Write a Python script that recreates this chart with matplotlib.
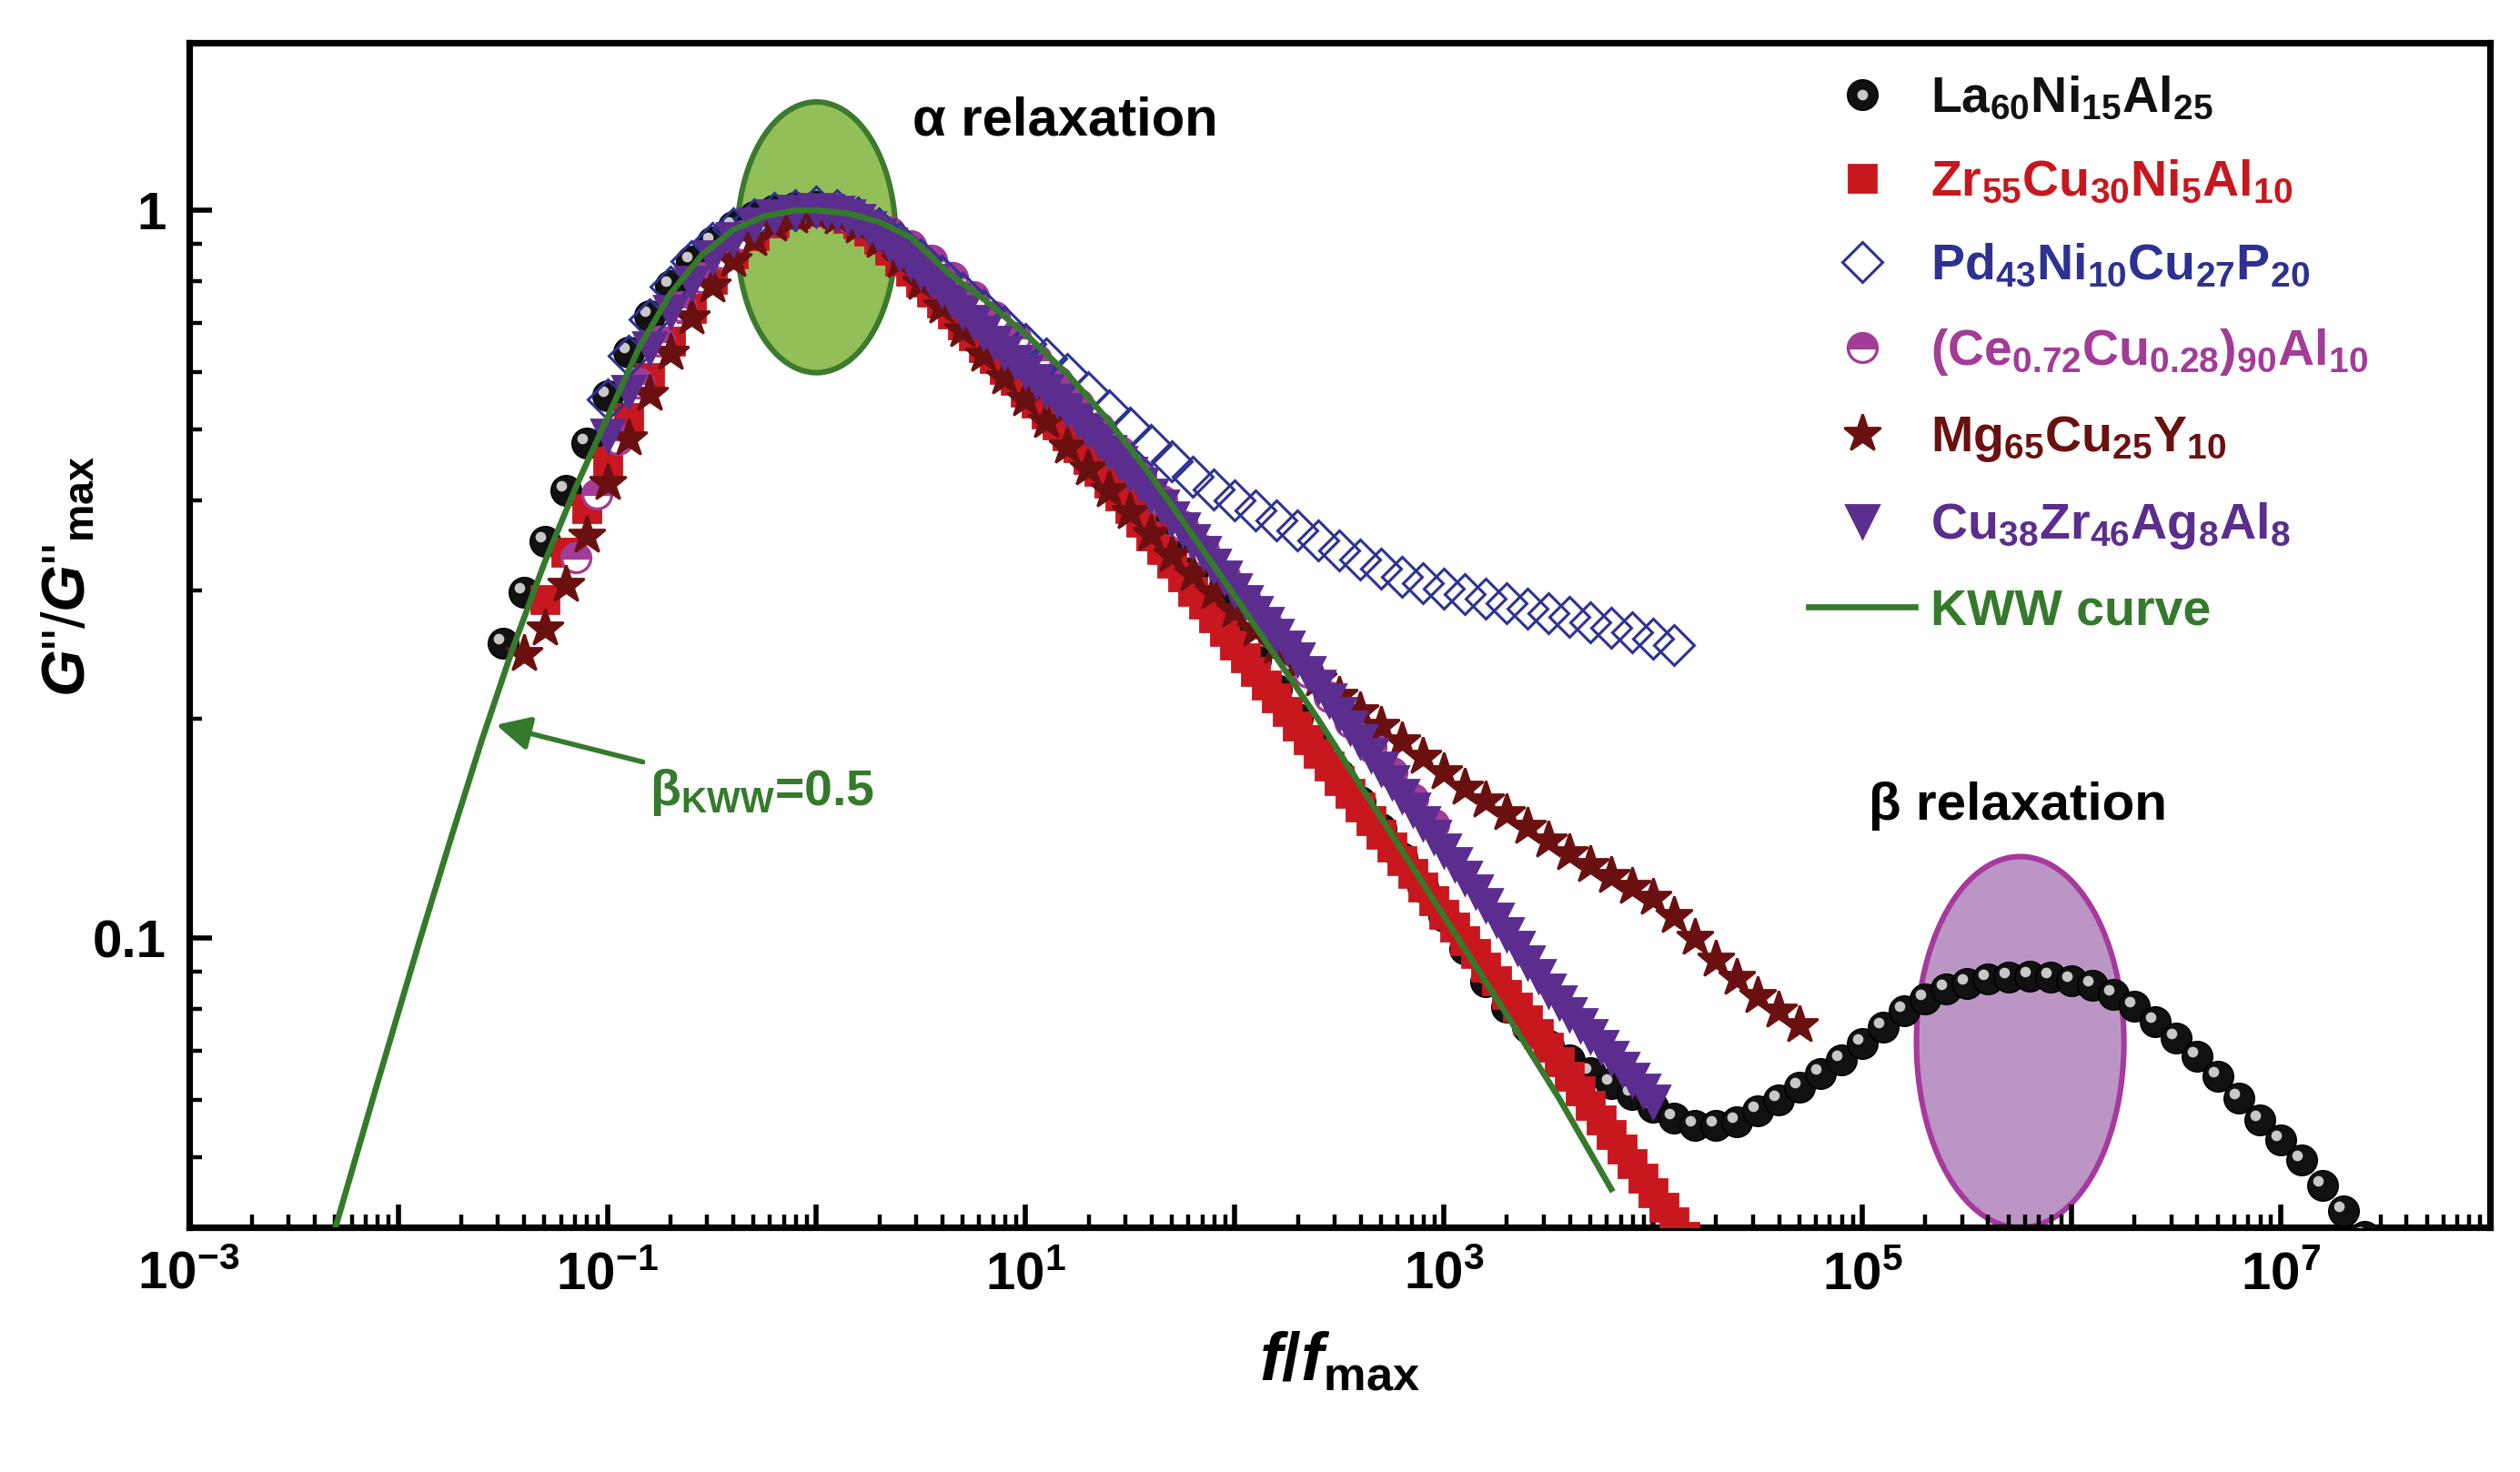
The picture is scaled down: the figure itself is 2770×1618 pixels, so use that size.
import numpy as np
import matplotlib
matplotlib.use('Agg')
import matplotlib.pyplot as plt
from matplotlib.ticker import FixedLocator, NullFormatter
from matplotlib.transforms import offset_copy
from matplotlib.legend_handler import HandlerTuple

plt.rcParams['font.family'] = ['Liberation Sans', 'DejaVu Sans']
plt.rcParams['font.weight'] = 'bold'
plt.rcParams['mathtext.fontset'] = 'custom'
plt.rcParams['mathtext.rm'] = 'Liberation Sans:bold'
plt.rcParams['mathtext.bf'] = 'Liberation Sans:bold'
plt.rcParams['mathtext.it'] = 'Liberation Sans:italic:bold'
plt.rcParams['mathtext.default'] = 'bf'

# ---- data (log10 of f/fmax and log10 of G''/G''max) ----
la_logf = [-1.5, -1.4, -1.3, -1.2, -1.1, -1.0, -0.9, -0.8, -0.7, -0.6, -0.5, -0.4, -0.3, -0.2, -0.1,
           0.0, 0.1, 0.2, 0.3, 0.4, 0.5, 0.6, 0.7, 0.8, 0.9, 1.0, 1.1, 1.2, 1.3, 1.4, 1.5, 1.6, 1.7, 1.8, 1.9,
           2.0, 2.1, 2.2, 2.3, 2.4, 2.5, 2.6, 2.7, 2.8, 2.9, 3.0, 3.1, 3.2, 3.3, 3.4, 3.5, 3.6, 3.7, 3.8, 3.9,
           4.0, 4.1, 4.2, 4.3, 4.4, 4.5, 4.6, 4.7, 4.8, 4.9, 5.0, 5.1, 5.2, 5.3, 5.4, 5.5, 5.6, 5.7, 5.8, 5.9,
           6.0, 6.1, 6.2, 6.3, 6.4, 6.5, 6.6, 6.7, 6.8, 6.9, 7.0, 7.1, 7.2, 7.3, 7.4]
la_logg = [-0.595, -0.525, -0.455, -0.385, -0.32, -0.255, -0.195, -0.145, -0.103, -0.07, -0.043, -0.022, -0.008, 0.0, 0.004,
           0.005, 0.0, -0.01, -0.03, -0.06, -0.09, -0.12, -0.15, -0.18, -0.21, -0.24, -0.268, -0.296, -0.325, -0.356,
           -0.387, -0.42, -0.458, -0.497, -0.537, -0.578, -0.618, -0.658, -0.698, -0.737, -0.775, -0.812, -0.85, -0.89, -0.93,
           -0.97, -1.015, -1.06, -1.095, -1.123, -1.147, -1.168, -1.185, -1.20, -1.215, -1.232, -1.248, -1.258, -1.258, -1.252,
           -1.238, -1.222, -1.205, -1.186, -1.167, -1.145, -1.123, -1.10, -1.083, -1.07, -1.062, -1.056, -1.053, -1.052, -1.054,
           -1.058, -1.065, -1.077, -1.094, -1.115, -1.138, -1.163, -1.19, -1.22, -1.25, -1.278, -1.305, -1.34, -1.375, -1.41]

zr_logf = [-1.3, -1.2, -1.1, -1.0, -0.9, -0.8, -0.7, -0.6, -0.5, -0.4, -0.3, -0.2, -0.1,
           0.0, 0.05, 0.1, 0.15, 0.2, 0.25, 0.3, 0.35, 0.4, 0.45, 0.5, 0.55, 0.6, 0.65, 0.7, 0.75, 0.8, 0.85,
           0.9, 0.95, 1.0, 1.05, 1.1, 1.15, 1.2, 1.25, 1.3, 1.35, 1.4, 1.45, 1.5, 1.55, 1.6, 1.65, 1.7, 1.75,
           1.8, 1.85, 1.9, 1.95, 2.0, 2.05, 2.1, 2.15, 2.2, 2.25, 2.3, 2.35, 2.4, 2.45, 2.5, 2.55, 2.6, 2.65,
           2.7, 2.75, 2.8, 2.85, 2.9, 2.95, 3.0, 3.05, 3.1, 3.15, 3.2, 3.25, 3.3, 3.35, 3.4, 3.45, 3.5, 3.55,
           3.6, 3.65, 3.7, 3.75, 3.8, 3.85, 3.9, 3.95, 4.0, 4.05, 4.1, 4.15, 4.2, 4.25, 4.3]
zr_logg = [-0.535, -0.47, -0.41, -0.345, -0.285, -0.23, -0.18, -0.135, -0.095, -0.06, -0.035, -0.017, -0.005,
           0.0, -0.002, -0.005, -0.011, -0.018, -0.028, -0.04, -0.055, -0.07, -0.084, -0.098, -0.112, -0.127, -0.142,
           -0.157, -0.172, -0.188, -0.203, -0.219, -0.234, -0.25, -0.265, -0.28, -0.295, -0.31, -0.326, -0.342, -0.358,
           -0.375, -0.392, -0.41, -0.428, -0.447, -0.466, -0.485, -0.504, -0.523, -0.541, -0.56, -0.578, -0.597, -0.615,
           -0.634, -0.652, -0.67, -0.689, -0.708, -0.727, -0.746, -0.764, -0.783, -0.801, -0.82, -0.838, -0.857, -0.875,
           -0.893, -0.911, -0.93, -0.948, -0.967, -0.985, -1.003, -1.021, -1.04, -1.058, -1.077, -1.095, -1.113, -1.131,
           -1.15, -1.17, -1.19, -1.21, -1.23, -1.25, -1.27, -1.29, -1.31, -1.33, -1.35, -1.37, -1.39, -1.41, -1.43,
           -1.45, -1.47]

pd_logf = [-1.0, -0.9, -0.8, -0.7, -0.6, -0.5, -0.4, -0.3, -0.2, -0.1,
           0.0, 0.1, 0.2, 0.3, 0.4, 0.5, 0.6, 0.7, 0.8, 0.9, 1.0, 1.1, 1.2, 1.3, 1.4, 1.5, 1.6, 1.7, 1.8, 1.9,
           2.0, 2.1, 2.2, 2.3, 2.4, 2.5, 2.6, 2.7, 2.8, 2.9, 3.0, 3.1, 3.2, 3.3, 3.4, 3.5, 3.6, 3.7, 3.8, 3.9,
           4.0, 4.1]
pd_logg = [-0.26, -0.2, -0.15, -0.105, -0.07, -0.045, -0.025, -0.012, -0.004, 0.0,
           0.005, 0.0, -0.01, -0.025, -0.045, -0.067, -0.09, -0.113, -0.137, -0.16, -0.183, -0.204, -0.225, -0.25,
           -0.275, -0.299, -0.322, -0.345, -0.366, -0.384, -0.399, -0.412, -0.426, -0.44, -0.454, -0.467, -0.48,
           -0.492, -0.503, -0.512, -0.52, -0.527, -0.533, -0.54, -0.547, -0.553, -0.559, -0.566, -0.573, -0.58,
           -0.588, -0.597]

ce_logf = [-1.15, -1.05, -0.95, -0.85, -0.75, -0.65, -0.55, -0.45, -0.35, -0.25, -0.15, -0.05,
           0.05, 0.15, 0.25, 0.35, 0.45, 0.55, 0.65, 0.75, 0.85, 0.95, 1.05, 1.15, 1.25, 1.35, 1.45, 1.55,
           1.65, 1.75, 1.85, 1.95, 2.05, 2.15, 2.25, 2.35, 2.45, 2.55, 2.65, 2.75, 2.85, 2.95]
ce_logg = [-0.477, -0.39, -0.315, -0.237, -0.18, -0.132, -0.092, -0.06, -0.035, -0.017, -0.006, 0.0,
           -0.002, -0.008, -0.018, -0.03, -0.048, -0.069, -0.092, -0.118, -0.146, -0.175, -0.205, -0.235,
           -0.266, -0.298, -0.331, -0.365, -0.399, -0.433, -0.467, -0.502, -0.536, -0.569, -0.602, -0.635,
           -0.669, -0.703, -0.737, -0.772, -0.808, -0.844]

mg_logf = [-1.4, -1.3, -1.2, -1.1, -1.0, -0.9, -0.8, -0.7, -0.6, -0.5, -0.4, -0.3, -0.2, -0.1,
           0.0, 0.1, 0.2, 0.3, 0.4, 0.5, 0.6, 0.7, 0.8, 0.9, 1.0, 1.1, 1.2, 1.3, 1.4, 1.5, 1.6, 1.7, 1.8, 1.9,
           2.0, 2.1, 2.2, 2.3, 2.4, 2.5, 2.6, 2.7, 2.8, 2.9, 3.0, 3.1, 3.2, 3.3, 3.4, 3.5, 3.6, 3.7, 3.8, 3.9,
           4.0, 4.1, 4.2, 4.3, 4.4, 4.5, 4.6, 4.7]
mg_logg = [-0.61, -0.575, -0.515, -0.447, -0.375, -0.313, -0.252, -0.196, -0.147, -0.103, -0.068, -0.04, -0.02, -0.008,
           -0.005, -0.01, -0.022, -0.042, -0.07, -0.1, -0.132, -0.165, -0.198, -0.23, -0.26, -0.29, -0.325, -0.355,
           -0.385, -0.415, -0.445, -0.473, -0.50, -0.525, -0.55, -0.576, -0.60, -0.623, -0.645, -0.667, -0.688, -0.709,
           -0.73, -0.751, -0.772, -0.793, -0.811, -0.829, -0.847, -0.866, -0.884, -0.9, -0.915, -0.93, -0.945, -0.97,
           -1.0, -1.03, -1.055, -1.08, -1.10, -1.12]

cu_logf = [-1.0, -0.9, -0.8, -0.7, -0.6, -0.5, -0.4, -0.3, -0.2, -0.1,
           0.0, 0.05, 0.1, 0.15, 0.2, 0.25, 0.3, 0.35, 0.4, 0.45, 0.5, 0.55, 0.6, 0.65, 0.7, 0.75, 0.8, 0.85,
           0.9, 0.95, 1.0, 1.05, 1.1, 1.15, 1.2, 1.25, 1.3, 1.35, 1.4, 1.45, 1.5, 1.55, 1.6, 1.65, 1.7, 1.75,
           1.8, 1.85, 1.9, 1.95, 2.0, 2.05, 2.1, 2.15, 2.2, 2.25, 2.3, 2.35, 2.4, 2.45, 2.5, 2.55, 2.6, 2.65,
           2.7, 2.75, 2.8, 2.85, 2.9, 2.95, 3.0, 3.05, 3.1, 3.15, 3.2, 3.25, 3.3, 3.35, 3.4, 3.45, 3.5, 3.55,
           3.6, 3.65, 3.7, 3.75, 3.8, 3.85, 3.9, 3.95, 4.0]
cu_logg = [-0.31, -0.25, -0.19, -0.14, -0.1, -0.065, -0.04, -0.02, -0.008, -0.002,
           0.0, -0.001, -0.004, -0.009, -0.015, -0.025, -0.035, -0.047, -0.06, -0.072, -0.085, -0.097, -0.11, -0.125,
           -0.14, -0.154, -0.168, -0.182, -0.196, -0.209, -0.222, -0.235, -0.248, -0.261, -0.275, -0.289, -0.303,
           -0.317, -0.332, -0.347, -0.362, -0.377, -0.392, -0.407, -0.423, -0.439, -0.455, -0.471, -0.488, -0.505,
           -0.522, -0.538, -0.554, -0.569, -0.585, -0.601, -0.617, -0.636, -0.655, -0.673, -0.692, -0.711, -0.73,
           -0.748, -0.767, -0.786, -0.805, -0.823, -0.842, -0.861, -0.88, -0.898, -0.917, -0.936, -0.955, -0.975,
           -0.995, -1.014, -1.033, -1.052, -1.072, -1.088, -1.105, -1.12, -1.135, -1.15, -1.165, -1.18, -1.195,
           -1.21, -1.225]

kww_logf = [-2.3, -2.1, -1.9, -1.75, -1.6, -1.45, -1.3, -1.15, -1.0, -0.85, -0.7, -0.55, -0.4, -0.25, -0.1,
            0.0, 0.15, 0.3, 0.45, 0.63, 0.8, 1.0, 1.2, 1.4, 1.6, 1.8, 2.0, 2.2, 2.4, 2.6, 2.8, 3.0, 3.3, 3.55, 3.8]
kww_logg = [-1.398, -1.2, -1.006, -0.865, -0.728, -0.6, -0.484, -0.38, -0.285, -0.19, -0.115, -0.062, -0.027,
            -0.008, 0.0, 0.0, -0.004, -0.016, -0.037, -0.086, -0.122, -0.17, -0.225, -0.29, -0.365, -0.447, -0.53,
            -0.615, -0.70, -0.79, -0.88, -0.97, -1.105, -1.22, -1.345]

labels = ['La$_{60}$Ni$_{15}$Al$_{25}$', 'Zr$_{55}$Cu$_{30}$Ni$_{5}$Al$_{10}$', 'Pd$_{43}$Ni$_{10}$Cu$_{27}$P$_{20}$',
          '(Ce$_{0.72}$Cu$_{0.28}$)$_{90}$Al$_{10}$', 'Mg$_{65}$Cu$_{25}$Y$_{10}$', 'Cu$_{38}$Zr$_{46}$Ag$_{8}$Al$_{8}$',
          'KWW curve']

c_la, c_zr, c_pd, c_ce, c_mg, c_cu, c_kww = '#111111', '#c8171e', '#2e3192', '#a23c97', '#6b1010', '#5b2d8e', '#357a2c'


def p(v):
    return 10 ** np.asarray(v)


fig = plt.figure(figsize=(13.85, 8.09), dpi=200)
ax = fig.add_axes([0.075, 0.166, 0.913, 0.805])
ax.set_xscale('log')
ax.set_yscale('log')
ax.set_xlim(1e-3, 1e8)
ax.set_ylim(0.04, 1.7)

# shaded ellipses (drawn in log space so they look like ellipses)
t = np.linspace(0, 2 * np.pi, 300)
ax.fill(p(0.0 + 0.379 * np.cos(t)), p(-0.037 + 0.186 * np.sin(t)), facecolor='#93bf59',
        edgecolor='#3d7a2e', lw=2.2, zorder=1)
ax.fill(p(5.755 + 0.496 * np.cos(t)), p(-1.143 + 0.255 * np.sin(t)), facecolor='#bb96c5',
        edgecolor='#a7399e', lw=2.2, zorder=1)

h_la, = ax.plot(p(la_logf), p(la_logg), 'o', ms=12, color=c_la, mec='#000000', mew=0.6, zorder=3)
hl = offset_copy(ax.transData, fig=fig, x=-1.8, y=1.8, units='points')
h_la2, = ax.plot(p(la_logf), p(la_logg), 'o', ms=4.2, color='#c8c8c8', mec='none', transform=hl, zorder=3.1)
h_zr, = ax.plot(p(zr_logf), p(zr_logg), 's', ms=11, color=c_zr, mec=c_zr, zorder=4)
h_ce, = ax.plot(p(ce_logf), p(ce_logg), 'o', ms=11.5, fillstyle='top', color=c_ce, mec=c_ce,
                markerfacecoloralt='white', mew=1.2, zorder=5)
h_pd, = ax.plot(p(pd_logf), p(pd_logg), 'D', ms=11, mfc='none', mec=c_pd, mew=1.1, zorder=6)
h_mg, = ax.plot(p(mg_logf), p(mg_logg), '*', ms=15.5, color=c_mg, mec=c_mg, zorder=7)
h_cu, = ax.plot(p(cu_logf), p(cu_logg), 'v', ms=13, color=c_cu, mec=c_cu, zorder=8)
h_kww, = ax.plot(p(kww_logf), p(kww_logg), '-', lw=2.4, color=c_kww, zorder=9)

# annotations
ax.text(p(0.46), p(0.123), 'α relaxation', fontsize=21.5, fontweight='bold', ha='left', va='center')
ax.text(p(5.03), p(-0.818), 'β relaxation', fontsize=21, fontweight='bold', ha='left', va='center')
ax.text(p(-0.8), p(-0.80), 'β$_{KWW}$=0.5', fontsize=20, fontweight='bold', color=c_kww, ha='left', va='center')
ax.annotate('', xy=(p(-1.532), p(-0.707)), xytext=(p(-0.83), p(-0.758)),
            arrowprops=dict(arrowstyle='-|>', color=c_kww, lw=2, mutation_scale=28, shrinkA=0, shrinkB=0),
            zorder=10)

# axes styling
for s in ax.spines.values():
    s.set_linewidth(2.6)
maj_x = [10.0 ** k for k in range(-3, 9)]
ax.xaxis.set_major_locator(FixedLocator(maj_x))
ax.set_xticklabels(['$10^{%d}$' % k if k % 2 else '' for k in range(-3, 9)])
ax.xaxis.set_minor_locator(FixedLocator([m * 10.0 ** k for k in range(-3, 8) for m in range(2, 10)]))
ax.xaxis.set_minor_formatter(NullFormatter())
ax.yaxis.set_major_locator(FixedLocator([0.1, 1.0]))
ax.set_yticklabels(['0.1', '1'])
ax.yaxis.set_minor_locator(FixedLocator([0.04, 0.05, 0.06, 0.07, 0.08, 0.09, 0.2, 0.3, 0.4, 0.5, 0.6, 0.7, 0.8, 0.9]))
ax.yaxis.set_minor_formatter(NullFormatter())
ax.tick_params(which='both', direction='in', top=False, right=False)
ax.tick_params(which='major', length=9, width=2, labelsize=21, pad=9)
ax.tick_params(which='minor', length=5, width=1.6)

ax.set_xlabel('$\\mathit{f/f}_{max}$', fontsize=27, labelpad=12)
ax.set_ylabel('$\\mathit{G}$"/$\\mathit{G}$"$_{max}$', fontsize=24)
ax.yaxis.set_label_coords(-0.04, 0.55)

leg = ax.legend([(h_la, h_la2), h_zr, h_pd, h_ce, h_mg, h_cu, h_kww], labels,
                handler_map={tuple: HandlerTuple(ndivide=1)},
                loc='upper left', bbox_to_anchor=(0.704, 0.972), frameon=False, numpoints=1,
                prop={'size': 20, 'weight': 'bold'}, handlelength=2.1, handletextpad=0.3,
                labelspacing=0.72, borderpad=0, borderaxespad=0,
                labelcolor=[c_la, c_zr, c_pd, c_ce, c_mg, c_cu, c_kww])

fig.savefig('out.png', dpi=200)
